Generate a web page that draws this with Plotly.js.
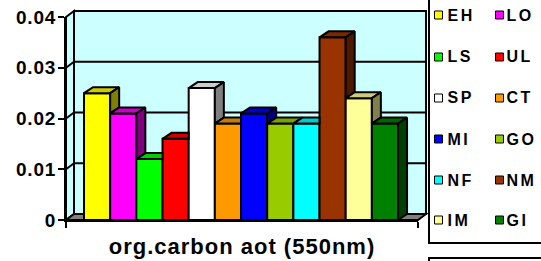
<!DOCTYPE html>
<html><head><meta charset="utf-8">
<script src="https://cdn.plot.ly/plotly-3.0.1.min.js"></script>
<style>html,body{margin:0;padding:0;background:#fff}#chart{width:541px;height:261px}</style>
</head><body><div id="chart"></div>
<script>
// ---- data ----
const categories = ['EH','LO','LS','UL','SP','CT','MI','GO','NF','NM','IM','GI'];
const values = [0.025,0.021,0.012,0.016,0.026,0.019,0.021,0.019,0.019,0.036,0.024,0.019];
const barColors = ['#FFFF00','#FF00FF','#00FF00','#FF0000','#FFFFFF','#FF9900','#0000FF','#99CC00','#00FFFF','#993300','#FFFF99','#008000'];
const yTickVals = [0,0.01,0.02,0.03,0.04];
const yTickText = ['0','0.01','0.02','0.03','0.04'];
const xTitle = 'org.carbon aot (550nm)';

// ---- geometry ----
const W = 541, H = 261;
const PL = 66, PR = 418, PT = 17, PB = 220;
const plotW = PR - PL, plotH = PB - PT;
const yMax = 0.04;
const pxPerX = 26.17;
const xStart = -0.5 - (84 - PL) / pxPerX;
const xEnd = xStart + plotW / pxPerX;
const barDepth = [9, 6];   // px right, px up
const wallDepth = [8, 6];
const dx = barDepth[0] / pxPerX;
const dy = barDepth[1] * yMax / plotH;
const FONT = 'Liberation Sans, Arial, sans-serif';
const LW = 2;

function shade(hex, f) {
  const n = parseInt(hex.slice(1), 16);
  const r = Math.round(((n >> 16) & 255) * f), g = Math.round(((n >> 8) & 255) * f), b = Math.round((n & 255) * f);
  return 'rgb(' + r + ',' + g + ',' + b + ')';
}
const fx = px => (px - PL) / plotW;
const fy = py => (PB - py) / plotH;

// ---- traces ----
const xs = categories.map((c, i) => i);
const traces = [{
  type: 'bar', x: xs, y: values, width: 1, name: 'org.carbon aot',
  text: categories, hoverinfo: 'text+y', textposition: 'none',
  marker: {color: barColors, line: {color: '#000', width: LW}},
  showlegend: false
}];
const faceTraces = [];
values.forEach((v, i) => {
  const L = i - 0.5, R = i + 0.5;
  const T2 = i < values.length - 1 ? values[i + 1] : 0;
  const s = dy / dx;
  let top;
  if (T2 <= v) top = [[L, v], [L + dx, v + dy], [R + dx, v + dy], [R, v]];
  else if (T2 < v + dy) { const e = (v + dy - T2) / s; top = [[L, v], [L + dx, v + dy], [R + e, v + dy], [R, T2], [R, v]]; }
  else top = [[L, v], [L + dx, v + dy], [R, v + dy], [R, v]];
  top.push(top[0]);
  faceTraces.push({type: 'scatter', mode: 'lines', fill: 'toself', x: top.map(p => p[0]), y: top.map(p => p[1]),
    fillcolor: shade(barColors[i], 0.8), line: {color: '#000', width: LW}, hoverinfo: 'skip', showlegend: false});
  if (v > T2) {
    const side = [[R, T2], [R, v], [R + dx, v + dy], [R + dx, T2 + dy], [R, T2]];
    faceTraces.push({type: 'scatter', mode: 'lines', fill: 'toself', x: side.map(p => p[0]), y: side.map(p => p[1]),
      fillcolor: shade(barColors[i], 0.5), line: {color: '#000', width: LW}, hoverinfo: 'skip', showlegend: false});
  }
});

// ---- decorations (walls, floor, legend) ----
const shapes = [];
const WX = wallDepth[0], WY = wallDepth[1];
const path = pts => 'M' + pts.map(p => fx(p[0]).toFixed(5) + ',' + fy(p[1]).toFixed(5)).join('L') + 'Z';
const line = {color: '#000', width: LW};
shapes.push({type: 'path', xref: 'paper', yref: 'paper', layer: 'below', path: path([[PL + WX, PT - WY], [PR + WX, PT - WY], [PR + WX, PB - WY], [PL + WX, PB - WY]]), fillcolor: '#CCFFFF', line: line});
shapes.push({type: 'path', xref: 'paper', yref: 'paper', layer: 'below', path: path([[PL, PT], [PL + WX, PT - WY], [PL + WX, PB - WY], [PL, PB]]), fillcolor: '#CCFFFF', line: line});
yTickVals.slice(1, -1).forEach(v => {
  const py = PB - v / yMax * plotH;
  shapes.push({type: 'line', xref: 'paper', yref: 'paper', layer: 'below', x0: fx(PL + WX), x1: fx(PR + WX), y0: fy(py - WY), y1: fy(py - WY), line: line});
  shapes.push({type: 'line', xref: 'paper', yref: 'paper', layer: 'below', x0: fx(PL), x1: fx(PL + WX), y0: fy(py), y1: fy(py - WY), line: line});
});
shapes.push({type: 'path', xref: 'paper', yref: 'paper', layer: 'below', path: path([[PL, PB], [PL + WX, PB - WY], [PR + WX, PB - WY], [PR, PB]]), fillcolor: '#808080', line: line});

// legend boxes
shapes.push({type: 'rect', xref: 'paper', yref: 'paper', x0: fx(429), x1: fx(560), y0: fy(-5), y1: fy(243), line: line, fillcolor: 'rgba(0,0,0,0)'});
shapes.push({type: 'rect', xref: 'paper', yref: 'paper', x0: fx(429), x1: fx(560), y0: fy(258), y1: fy(280), line: line, fillcolor: 'rgba(0,0,0,0)'});
const rowsY = [15, 57, 98, 139, 180, 220];
const markX = [438.5, 499.5], textX = [448, 507];
const annotations = [];
categories.forEach((c, i) => {
  const r = Math.floor(i / 2), k = i % 2, cy = rowsY[r];
  shapes.push({type: 'rect', xref: 'paper', yref: 'paper', x0: fx(markX[k] - 4), x1: fx(markX[k] + 4), y0: fy(cy - 4), y1: fy(cy + 4), fillcolor: barColors[i], line: {color: '#000', width: 1}});
  annotations.push({xref: 'paper', yref: 'paper', x: fx(textX[k]), y: fy(cy), xanchor: 'left', yanchor: 'middle', showarrow: false, text: c,
    font: {family: FONT, size: 16, weight: 700, color: '#000'}});
});

const layout = {
  width: W, height: H, margin: {l: PL, r: W - PR, t: PT, b: H - PB},
  paper_bgcolor: '#fff', plot_bgcolor: 'rgba(0,0,0,0)', showlegend: false,
  font: {family: FONT, color: '#000'},
  xaxis: {range: [xStart, xEnd], showgrid: false, zeroline: false, showline: true, linecolor: '#000', linewidth: LW,
    ticks: 'outside', tickvals: [xStart, xEnd], ticklen: 6, tickwidth: LW, tickcolor: '#000', showticklabels: false,
    title: {text: xTitle, font: {family: FONT, size: 22, weight: 700}, standoff: 12}, automargin: false, fixedrange: true},
  yaxis: {range: [0, yMax], showgrid: false, zeroline: false, showline: true, linecolor: '#000', linewidth: LW,
    ticks: 'outside', tickvals: yTickVals, ticktext: yTickText, ticklen: 6, tickwidth: LW, tickcolor: '#000',
    ticklabelstandoff: -2,
    tickfont: {family: FONT, size: 19, weight: 700}, automargin: false, fixedrange: true},
  shapes: shapes, annotations: annotations, bargap: 0
};
Plotly.newPlot('chart', traces.concat(faceTraces), layout, {displayModeBar: false, staticPlot: true}).then(() => {
  document.querySelectorAll('#chart .annotation-text').forEach(el => { el.style.letterSpacing = '2.5px'; });
  document.querySelectorAll('#chart .g-xtitle text').forEach(el => { el.style.letterSpacing = '1px'; });
  document.querySelectorAll('#chart .ytick text').forEach(el => { el.style.letterSpacing = '0.8px'; });
});
</script></body></html>
